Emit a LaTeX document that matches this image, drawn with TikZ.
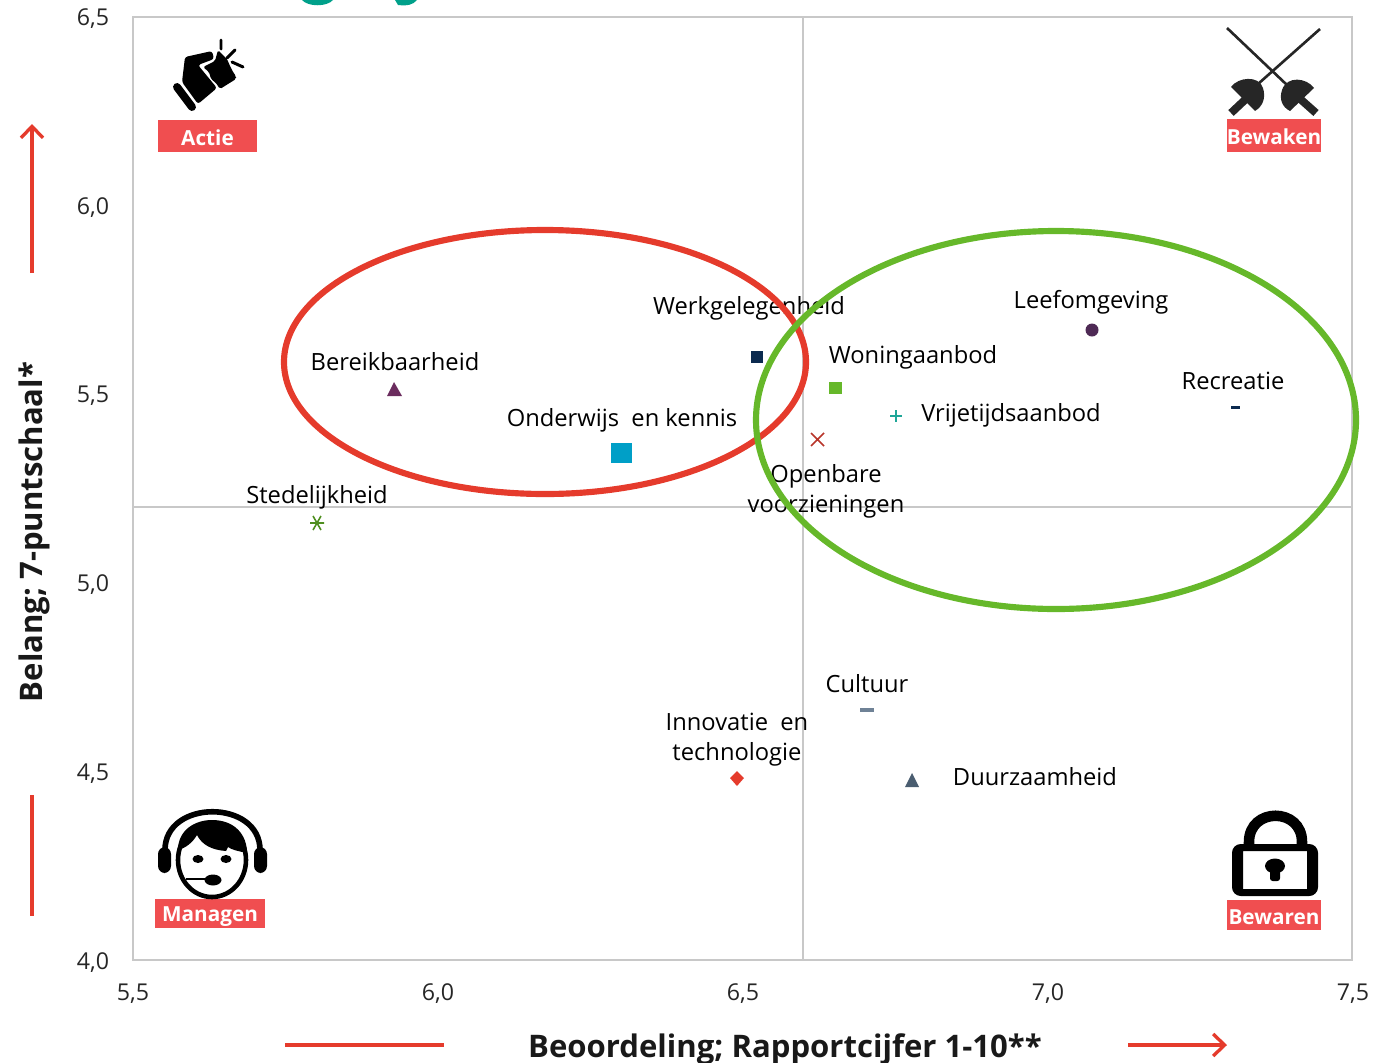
\documentclass[tikz,border=0pt]{standalone}
\usepackage{fontspec}
\setmainfont{Open Sans}
\usetikzlibrary{arrows.meta}
\definecolor{tagred}{HTML}{F04E50}
\definecolor{arrred}{HTML}{E53B2C}
\definecolor{ringgreen}{HTML}{66B82A}
\definecolor{gridgray}{HTML}{C8C8C8}
\definecolor{titleteal}{HTML}{00A08A}
\definecolor{mpurple}{HTML}{6B2C5E}
\definecolor{mblue}{HTML}{009FC7}
\definecolor{mnavy}{HTML}{0B2A4F}
\definecolor{mteal}{HTML}{1FA698}
\definecolor{mbrick}{HTML}{B8352A}
\definecolor{mplum}{HTML}{4E2A55}
\definecolor{mslate}{HTML}{6F8296}
\definecolor{mdark}{HTML}{4A5D70}
\definecolor{mleaf}{HTML}{4F8F1F}
\definecolor{swordk}{HTML}{262626}
\tikzset{
  x=0.02cm,y=-0.02cm,
  lab/.style={font=\fontsize{13.5}{16}\selectfont,text=black,inner sep=0,align=center},
  tick/.style={font=\fontsize{13.2}{16}\selectfont,text=black!85,inner sep=0},
  axt/.style={font=\bfseries\fontsize{17.7}{20}\selectfont,text=black!90,inner sep=0},
  tag/.style={fill=tagred,inner sep=0,anchor=center},
  tagtext/.style={text=white,font=\bfseries\fontsize{11.8}{14}\selectfont,inner sep=0},
  grid/.style={draw=gridgray,line width=0.85pt},
  ring/.style={line width=3.5pt},
  redline/.style={draw=arrred,line width=1.9pt},
  redarrow/.style={redline,-{Straight Barb[length=6.5pt,width=12.5pt,line width=1.9pt]}},
}
\begin{document}
\begin{tikzpicture}
\useasboundingbox (0,0) rectangle (1393,1062);
% title remnants
\fill[titleteal] (302,0) .. controls (308,7) and (327,7) .. (333,0) -- cycle;
\fill[titleteal] (395,0) -- (398,5) .. controls (407,6) and (413,5) .. (417,0) -- cycle;
% frame
\draw[grid] (133,17) rectangle (1352,960);
\coordinate (vt) at (803,17); \coordinate (vb) at (803,960);
\coordinate (hl) at (133,507); \coordinate (hr) at (1352,507);
\draw[grid] (vt) -- (vb);
\draw[grid] (hl) -- (hr);
% ticks
\node[tick] at (93,19) {6,5};
\node[tick] at (93,208) {6,0};
\node[tick] at (93,396) {5,5};
\node[tick] at (93,585) {5,0};
\node[tick] at (93,774) {4,5};
\node[tick] at (93,963) {4,0};
\node[tick] at (133,994) {5,5};
\node[tick] at (438,994) {6,0};
\node[tick] at (743,994) {6,5};
\node[tick] at (1048,994) {7,0};
\node[tick] at (1353,994) {7,5};
% axis titles
\node[axt,rotate=90] at (34,532) {Belang; 7-puntschaal*};
\node[axt] at (785,1049) {Beoordeling; Rapportcijfer 1-10**};
% red arrows
\coordinate (a1) at (32,273); \coordinate (a2) at (32,124);
\coordinate (a3) at (32,795); \coordinate (a4) at (32,916);
\coordinate (a5) at (285,1045); \coordinate (a6) at (444,1045);
\coordinate (a7) at (1128,1045); \coordinate (a8) at (1227,1045);
\draw[redarrow] (a1) -- (a2);
\draw[redline] (a3) -- (a4);
\draw[redline] (a5) -- (a6);
\draw[redarrow] (a7) -- (a8);
% labels
\node[lab] at (395,362) {Bereikbaarheid};
\node[lab] at (622,420) {Onderwijs\ \ en kennis};
\node[lab] at (749,308) {Werkgelegenheid};
\node[lab] at (913,357) {Woningaanbod};
\node[lab] at (1011,415) {Vrijetijdsaanbod};
\node[lab] at (1091,302) {Leefomgeving};
\node[lab] at (1233,381) {Recreatie};
\node[lab] at (317,497) {Stedelijkheid};
\node[lab] at (826,491) {Openbare\\[1pt]voorzieningen};
\node[lab] at (867,684) {Cultuur};
\node[lab] at (737,740) {Innovatie\ \ en\\[1pt]technologie};
\node[lab] at (1035,777) {Duurzaamheid};
% markers
\fill[mpurple] (394,382) -- (402,396) -- (387,396) -- cycle;
\fill[mblue] (611,443) rectangle (632,463);
\fill[mnavy] (751,351) rectangle (763,363);
\fill[ringgreen] (829,382) rectangle (842,394);
\draw[mteal,line width=0.9pt] (890,416) -- (902,416) (896,410) -- (896,422);
\draw[mbrick,line width=0.9pt] (811,433) -- (824,446) (824,433) -- (811,446);
\fill[mplum] (1092,330) circle[radius=6.5];
\fill[mnavy] (1231,406) rectangle (1240,409);
\fill[mslate] (860,708) rectangle (874,712);
\fill[arrred] (737,771) -- (744,778) -- (737,786) -- (730,778) -- cycle;
\fill[mdark] (912,773) -- (919,787) -- (905,787) -- cycle;
\draw[mleaf,line width=0.9pt] (310,523) -- (324,523) (313,516) -- (321,530) (321,516) -- (313,530);
% rings
\coordinate (redc) at (545,362);
\coordinate (grnc) at (1056,420);
\draw[ring,draw=arrred] (redc) ellipse [x radius=261,y radius=132];
\draw[ring,draw=ringgreen] (grnc) ellipse [x radius=300,y radius=189];
% tags
\node[tag,minimum width=1.98cm,minimum height=0.64cm] (tagA) at (207.5,136) {};
\node[tagtext] at (207.5,138) {Actie};
\node[tag,minimum width=1.88cm,minimum height=0.66cm] (tagB) at (1274,135.5) {};
\node[tagtext] at (1274,137) {Bewaken};
\node[tag,minimum width=2.2cm,minimum height=0.58cm] (tagC) at (210,913.5) {};
\node[tagtext] at (210,917) {Managen};
\node[tag,minimum width=1.88cm,minimum height=0.6cm] (tagD) at (1274,915) {};
\node[tagtext] at (1274,917) {Bewaren};
% fist icon
\fill[black,rounded corners=1.5pt] (185,57) -- (212,51) -- (214,59) -- (198,65) -- (217,88) -- (198,104) -- (182,82) -- cycle;
\fill[black,rounded corners=1pt] (203,67) -- (215,61) -- (218,50) -- (224,56) -- (227,59) -- (230,66) -- (233,72) -- (236,76) -- (236,79) -- (220,89) -- (216,83) -- (211,79) -- (209,72) -- cycle;
\draw[black,line width=4.5pt,line cap=round] (177,87) -- (192,107);
\draw[black,line width=1.7pt,line cap=round] (221,40) -- (221,49) (235,50) -- (227,58) (232,62) -- (243,67);
% fencing swords icon
\draw[swordk,line width=1.5pt] (1227,28) -- (1287,85);
\draw[swordk,line width=1.5pt] (1320,29) -- (1258,84);
\fill[swordk] (1231,87) .. controls (1238,77) and (1259,75) .. (1263,88) .. controls (1266,98) and (1263,106) .. (1255,111) -- cycle;
\fill[swordk] (1314,88) .. controls (1307,78) and (1287,75) .. (1282,90) .. controls (1279,99) and (1282,107) .. (1290,111) -- cycle;
\draw[swordk,line width=4.5pt] (1248,97) -- (1231,113);
\draw[swordk,line width=4.5pt] (1298,97) -- (1316,113);
% headset icon
\fill[black,rounded corners=4pt] (158,847) rectangle (171,873);
\fill[black,rounded corners=4pt] (254,847) rectangle (267,873);
\draw[black,line width=3.2pt] (165,850) .. controls (165,799) and (260,799) .. (260,850);
\draw[black,fill=white,line width=2.6pt] (212,860) ellipse [x radius=34,y radius=37];
\fill[black] (178,850) .. controls (178,830) and (195,820) .. (212,820) .. controls (235,820) and (247,835) .. (247,853) .. controls (238,851) and (232,850) .. (228,847) -- (226,851) .. controls (212,850) and (202,845) .. (197,835) .. controls (193,842) and (186,848) .. (178,850) -- cycle;
\fill[black] (198,859) ellipse [x radius=5.5,y radius=4];
\fill[black] (226,859) ellipse [x radius=5.5,y radius=4];
\draw[black,line width=1.2pt] (186,879) -- (206,879);
\fill[black] (213,880) ellipse [x radius=8.5,y radius=5.5];
% lock icon
\draw[black,line width=6pt] (1249,850) -- (1249,842) .. controls (1249,807) and (1302,807) .. (1302,842) -- (1302,850);
\fill[black,even odd rule,rounded corners=5pt] (1232,844) rectangle (1318,896) [sharp corners] (1243,851) rectangle (1307,889);
\fill[black] (1275,866) ellipse [x radius=10,y radius=7.5];
\fill[black,rounded corners=1.5pt] (1270,866) rectangle (1280,881);
\end{tikzpicture}
\end{document}
